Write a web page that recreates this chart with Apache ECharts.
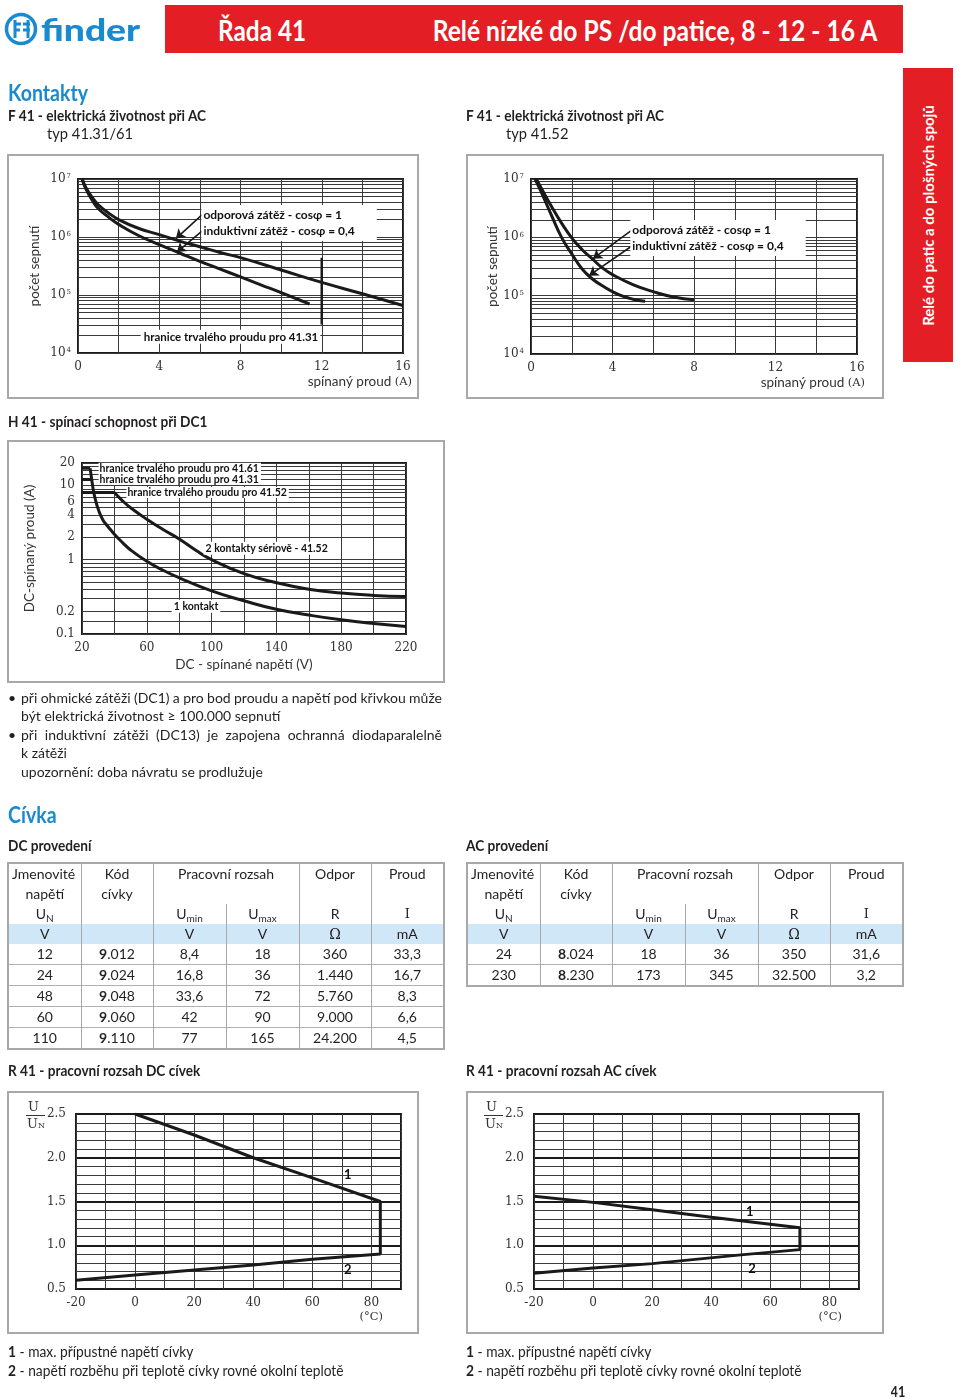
<!DOCTYPE html>
<html><head><meta charset="utf-8">
<script src="https://cdn.jsdelivr.net/npm/echarts@6.0.0/dist/echarts.min.js"></script>
<style>
html,body{margin:0;padding:0;background:#fff;}
#page{position:relative;width:960px;height:1399px;overflow:hidden;font-family:Lato,'Noto Sans',sans-serif;color:#231f20;}
#chart{position:absolute;left:0;top:0;width:960px;height:1399px;}
.t{position:absolute;white-space:nowrap;}
.frame{position:absolute;border:2px solid #a8a8a8;box-sizing:border-box;}
.tbl{position:absolute;border-collapse:collapse;table-layout:fixed;border:2px solid #a8a8a8;font-family:Lato,sans-serif;font-size:14px;color:#231f20;}
.tbl td{height:20px;padding:0;line-height:20px;text-align:center;white-space:nowrap;}
.tbl td.vl{border-left:1px solid #a8a8a8;}
.tbl tr.dr td{border-top:1px solid #b0b0b0;}
.tbl tr.blue td{background:#cfe7f6;}
.tbl sub{font-size:10px;vertical-align:-3px;line-height:0;}
</style></head>
<body><div id="page">
<div class="frame" style="left:7px;top:154px;width:412px;height:245px"></div>
<div class="frame" style="left:466px;top:154px;width:418px;height:245px"></div>
<div class="frame" style="left:7px;top:440px;width:438px;height:243px"></div>
<div class="frame" style="left:7px;top:1091px;width:412px;height:243px"></div>
<div class="frame" style="left:466px;top:1091px;width:418px;height:243px"></div>
<div id="chart"></div>
</div>
<script>
// ---------- DATA ----------
// F 41 – electrical life at AC, type 41.31/61 (x: switched current A, y: cycles)
const life4131Resistive = [[0.2,1e7],[0.4,7e6],[0.7,4.8e6],[1,3.6e6],[1.5,2.6e6],[2,2.0e6],[3,1.4e6],[4,1.1e6],[5,8.5e5],[6,6.8e5],[7,5.4e5],[8,4.4e5],[10,2.7e5],[12,1.65e5],[14,1.05e5],[16,6.6e4]];
const life4131Inductive = [[0.2,1e7],[0.4,6.6e6],[0.7,4.3e6],[1,3.1e6],[1.5,2.2e6],[2,1.65e6],[3,1.05e6],[4,7.4e5],[5,5.3e5],[6,3.8e5],[7,2.8e5],[8,2.05e5],[9,1.5e5],[10,1.1e5],[11.4,7e4]];
const limit4131 = [[12,4.4e5],[12,3.1e4]];
// F 41 – electrical life at AC, type 41.52
const life4152Resistive = [[0.26,1e7],[0.5,7e6],[1,3.4e6],[1.5,1.75e6],[2,9.8e5],[2.5,6.2e5],[3,4.3e5],[3.5,3.0e5],[4,2.3e5],[5,1.55e5],[6,1.17e5],[7,9.5e4],[8,8.5e4]];
const life4152Inductive = [[0.2,1e7],[0.5,6.0e6],[1,2.4e6],[1.5,1.0e6],[2,5.2e5],[2.5,2.9e5],[3,1.95e5],[3.5,1.48e5],[4,1.17e5],[4.5,9.8e4],[5,8.7e4],[5.6,8e4]];
// H 41 – DC1 breaking capacity (x: V, y: A)
const plateau4161 = [[20,17],[25,17]];
const plateau4131 = [[20,12],[26,12]];
const plateau4152 = [[20,8],[40,8]];
const dcOneContact = [[25,17],[26,12],[27,8.6],[28,6.8],[30,4.8],[33,3.4],[36,2.8],[40,2.2],[45,1.7],[50,1.35],[60,0.95],[70,0.72],[80,0.57],[100,0.38],[120,0.28],[140,0.215],[160,0.18],[180,0.155],[200,0.138],[220,0.126]];
const dcTwoContacts = [[40,8],[45,6.2],[50,5],[60,3.5],[70,2.55],[80,1.9],[90,1.35],[100,1.0],[120,0.65],[140,0.49],[160,0.40],[180,0.355],[200,0.33],[220,0.32]];
// R 41 – coil operating range (x: °C, y: U/UN)
const dcCoilRange = [[0,2.5],[20,2.26],[40,2.0],[60,1.77],[83,1.5],[83,0.9],[60,0.84],[40,0.775],[0,0.66],[-20,0.6]];
const acCoilRange = [[-20,1.56],[0,1.49],[20,1.405],[40,1.32],[50,1.28],[70,1.2],[70,0.95],[50,0.89],[20,0.79],[0,0.74],[-20,0.68]];
// Axis tick values
const logMantissas = [1,2,3,4,5,6,7,8,9];
const lifeDecades = [1e4,1e5,1e6,1e7];
const dcCurrentLabels = [0.1,0.2,1,2,4,6,10,20];
const dcCurrentGrid = [0.1,0.15,0.2,0.3,0.4,0.5,0.6,0.7,0.8,0.9,1,2,3,4,5,6,7,8,9,10,12,14,16,18,20];
// Coil tables
const dcRatedV = ['12','24','48','60','110'];
const dcCode = ['012','024','048','060','110'];
const dcUmin = ['8,4','16,8','33,6','42','77'];
const dcUmax = ['18','36','72','90','165'];
const dcR = ['360','1.440','5.760','9.000','24.200'];
const dcI = ['33,3','16,7','8,3','6,6','4,5'];
const acRatedV = ['24','230'];
const acCode = ['024','230'];
const acUmin = ['18','173'];
const acUmax = ['36','345'];
const acR = ['350','32.500'];
const acI = ['31,6','3,2'];

// ---------- PAGE TEXT ----------
const page = document.getElementById('page');
const SANS = "Lato, 'Noto Sans', sans-serif";
const SERIF = "'DejaVu Serif', serif";
function addText(x, y, html, o) {
  o = o || {};
  const d = document.createElement('div'); d.className = 't';
  const fs = o.size || 14, lh = Math.round(fs * 1.25);
  d.style.fontSize = fs + 'px'; d.style.lineHeight = lh + 'px';
  d.style.top = (y - lh / 2) + 'px';
  d.style.fontWeight = o.weight || 'normal';
  d.style.color = o.color || '#231f20';
  d.style.fontFamily = o.family || SANS;
  const a = o.anchor || 'left';
  if (a === 'right') { d.style.right = (960 - x) + 'px'; d.style.transformOrigin = 'right center'; }
  else { d.style.left = x + 'px'; d.style.transformOrigin = 'left center'; }
  if (o.sx) d.style.transform = 'scaleX(' + o.sx + ')';
  if (o.width) { d.style.width = o.width + 'px'; d.style.textAlign = 'justify'; d.style.textAlignLast = 'justify'; d.style.wordSpacing = '-4px'; }
  d.innerHTML = html; page.appendChild(d); return d;
}
function addBox(x, y, w, h, bg) {
  const d = document.createElement('div');
  d.style.cssText = 'position:absolute;left:' + x + 'px;top:' + y + 'px;width:' + w + 'px;height:' + h + 'px;background:' + bg;
  page.appendChild(d); return d;
}
const BLUE = '#1a8ad0', RED = '#e31e24';
const HEAD = {size: 15, weight: 'bold', sx: 0.91};
// header
addBox(165, 5, 738, 48, RED);
addText(218, 30, 'Řada 41', {size: 28, weight: 'bold', color: '#fff', sx: 0.87});
addText(877, 30, 'Relé nízké do PS /do patice, 8 - 12 - 16 A', {size: 28, weight: 'bold', color: '#fff', anchor: 'right', sx: 0.88});
const logo = document.createElement('div');
logo.style.cssText = 'position:absolute;left:4px;top:12px;width:36px;height:36px';
logo.innerHTML = '<svg width="36" height="36" viewBox="0 0 36 36"><circle cx="17" cy="17" r="14.5" fill="none" stroke="' + BLUE + '" stroke-width="3.5"/><path d="M11 8 V26 M11 12 H17 M11 18 H16 M24 8 V26 M19 12 H26 M19 18 H26" stroke="' + BLUE + '" stroke-width="3" fill="none"/></svg>';
page.appendChild(logo);
addText(41, 29, 'finder', {size: 30, weight: 900, color: BLUE, sx: 1.24});
// side tab
addBox(903, 68, 50, 294, RED);
const side = addText(928, 215, 'Relé do patic a do plošných spojů', {size: 15, weight: 'bold', color: '#fff'});
side.style.left = '928px'; side.style.transformOrigin = '0 50%';
side.style.transform = 'rotate(-90deg) translateX(-50%)';
// section titles
addText(8, 92, 'Kontakty', {size: 23, weight: 'bold', color: BLUE, sx: 0.85});
addText(8, 115, 'F 41 - elektrická životnost při AC', HEAD);
addText(47, 133, 'typ 41.31/61', {size: 15, sx: 0.98});
addText(466, 115, 'F 41 - elektrická životnost při AC', HEAD);
addText(506, 133, 'typ 41.52', {size: 15, sx: 0.98});
addText(8, 421, 'H 41 - spínací schopnost při DC1', HEAD);
addText(8, 698, '•', {size: 14});
addText(21, 698, 'při ohmické zátěži (DC1) a pro bod proudu a napětí pod křivkou může', {size: 14, width: 421});
addText(21, 716, 'být elektrická životnost ≥ 100.000 sepnutí', {size: 14});
addText(8, 735, '•', {size: 14});
addText(21, 735, 'při induktivní zátěži (DC13) je zapojena ochranná diodaparalelně', {size: 14, width: 421});
addText(21, 753, 'k zátěži', {size: 14});
addText(21, 772, 'upozornění: doba návratu se prodlužuje', {size: 14});
addText(8, 814, 'Cívka', {size: 23, weight: 'bold', color: BLUE, sx: 0.85});
addText(8, 845, 'DC provedení', HEAD);
addText(466, 845, 'AC provedení', HEAD);
addText(8, 1070, 'R 41 - pracovní rozsah DC cívek', HEAD);
addText(466, 1070, 'R 41 - pracovní rozsah AC cívek', HEAD);
[8, 466].forEach(x => {
  addText(x, 1352, '<b>1</b> - max. přípustné napětí cívky', {size: 14.5, sx: 0.95});
  addText(x, 1371, '<b>2</b> - napětí rozběhu při teplotě cívky rovné okolní teplotě', {size: 14.5, sx: 0.95});
  const f = document.createElement('div');
  f.style.cssText = 'position:absolute;left:' + (x + 18) + 'px;top:1099px;width:19px;font-family:' + SERIF + ';font-size:13px;line-height:16px;color:#333';
  f.innerHTML = '<div style="border-bottom:1px solid #333;padding-left:2px">U</div><div style="padding-left:1px">U<span style="font-size:8px">N</span></div>';
  page.appendChild(f);
});
addText(905, 1391, '41', {size: 15, weight: 'bold', anchor: 'right', sx: 0.85});

// tables
function buildTable(x, y, prefix, cols, nRows) {
  const t = document.createElement('table'); t.className = 'tbl';
  t.style.left = x + 'px'; t.style.top = y + 'px'; t.style.width = '437px';
  let h = '<colgroup><col style="width:73px"><col style="width:72px"><col style="width:73px"><col style="width:73px"><col style="width:72px"><col style="width:73px"></colgroup>';
  h += '<tr><td style="text-align:left;padding-left:3px">Jmenovité</td><td class="vl">Kód</td><td class="vl" colspan="2">Pracovní rozsah</td><td class="vl">Odpor</td><td class="vl">Proud</td></tr>';
  h += '<tr><td>napětí</td><td class="vl">cívky</td><td class="vl" colspan="2"></td><td class="vl"></td><td class="vl"></td></tr>';
  h += '<tr><td>U<sub>N</sub></td><td class="vl"></td><td class="vl">U<sub>min</sub></td><td class="vl">U<sub>max</sub></td><td class="vl">R</td><td class="vl" style="font-family:' + SERIF + ';font-size:13px">I</td></tr>';
  h += '<tr class="blue"><td>V</td><td class="vl"></td><td class="vl">V</td><td class="vl">V</td><td class="vl" style="font-family:' + SERIF + '">Ω</td><td class="vl">mA</td></tr>';
  for (let i = 0; i < nRows; i++) {
    h += '<tr class="' + (i ? 'dr' : '') + '"><td>' + cols[0][i] + '</td><td class="vl"><b>' + prefix + '</b>.' + cols[1][i] + '</td><td class="vl">' + cols[2][i] + '</td><td class="vl">' + cols[3][i] + '</td><td class="vl">' + cols[4][i] + '</td><td class="vl">' + cols[5][i] + '</td></tr>';
  }
  t.innerHTML = h; page.appendChild(t);
}
buildTable(7, 862, '9', [dcRatedV, dcCode, dcUmin, dcUmax, dcR, dcI], dcRatedV.length);
buildTable(466, 862, '8', [acRatedV, acCode, acUmin, acUmax, acR, acI], acRatedV.length);

// ---------- CHARTS ----------
const lifeGrid = [];
lifeDecades.slice(0, 3).forEach(d => logMantissas.forEach(m => lifeGrid.push(m * d)));
lifeGrid.push(1e7);

const INK = '#1a1a1a';
const gridLine = {show: true, lineStyle: {color: '#3a3a3a', width: 1}};
const tickFont = {fontFamily: SERIF, fontSize: 12, color: '#333'};
const supFmt = v => '10{s|' + Math.round(Math.log10(v)) + '}';
const supRich = {s: {fontFamily: SERIF, fontSize: 7, color: '#333', verticalAlign: 'top', padding: [0, 0, 5, 1]}};
const gridBase = {show: true, borderColor: INK, borderWidth: 2, backgroundColor: 'transparent'};

function xVal(gi, min, max, interval, fmt, extra) {
  return Object.assign({gridIndex: gi, type: 'value', min, max, interval,
    axisLine: {show: false}, axisTick: {show: false}, splitLine: gridLine,
    axisLabel: Object.assign({formatter: fmt, margin: 8}, tickFont)}, extra || {});
}
function curve(gi, data, smooth) {
  return {type: 'line', xAxisIndex: gi, yAxisIndex: gi, data, symbol: 'none', silent: true,
    smooth: smooth ? 0.5 : false,
    lineStyle: {color: INK, width: 3}, z: 3};
}
function labelPt(coord, text, pos, style) {
  return {coord, symbol: 'circle', symbolSize: 1, itemStyle: {color: 'rgba(0,0,0,0)'},
    label: Object.assign({show: true, position: pos, distance: 1, formatter: text, color: '#111',
      fontFamily: SANS, fontWeight: 'bold', fontSize: 12, backgroundColor: '#fff'}, style || {})};
}
function notes(gi, pts, arrows) {
  const s = {type: 'line', xAxisIndex: gi, yAxisIndex: gi, data: [], silent: true, z: 4,
    markPoint: {silent: true, animation: false, data: pts}};
  if (arrows) s.markLine = {silent: true, animation: false, symbol: ['none', 'arrow'], symbolSize: 9,
    lineStyle: {color: INK, width: 1.6, type: 'solid'}, label: {show: false}, data: arrows};
  return s;
}
const sansName = {fontFamily: SANS, fontSize: 13.5, color: '#333'};
const endName = (pad) => Object.assign({}, sansName, {align: 'right', verticalAlign: 'top', padding: [pad, 0, 0, 0], rich: {s: {fontFamily: SERIF, fontSize: 11.5, color: '#333'}}});

const option = {
  animation: false,
  grid: [
    Object.assign({left: 78, top: 179, width: 325, height: 174}, gridBase),
    Object.assign({left: 531, top: 179, width: 326, height: 175}, gridBase),
    Object.assign({left: 82, top: 463, width: 324, height: 171}, gridBase),
    Object.assign({left: 76, top: 1114, width: 325, height: 175}, gridBase),
    Object.assign({left: 534, top: 1114, width: 325, height: 175}, gridBase)
  ],
  xAxis: [
    xVal(0, 0, 16, 2, v => v % 4 === 0 ? String(v) : '', {name: 'spínaný proud {s|(A)}', nameLocation: 'end', nameGap: 9, nameTextStyle: endName(22)}),
    xVal(1, 0, 16, 2, v => v % 4 === 0 ? String(v) : '', {name: 'spínaný proud {s|(A)}', nameLocation: 'end', nameGap: 8, nameTextStyle: endName(22)}),
    xVal(2, 20, 220, 20, v => (v - 20) % 40 === 0 ? String(v) : '', {name: 'DC - spínané napětí (V)', nameLocation: 'middle', nameGap: 24, nameTextStyle: sansName}),
    xVal(3, -20, 90, 10, v => (v % 20 === 0 && v <= 80) ? String(v) : '', {name: '{s|(°C)}', nameLocation: 'end', nameGap: -18, nameTextStyle: endName(22)}),
    xVal(4, -20, 90, 10, v => (v % 20 === 0 && v <= 80) ? String(v) : '', {name: '{s|(°C)}', nameLocation: 'end', nameGap: -17, nameTextStyle: endName(22)})
  ],
  yAxis: [0, 1].map(gi => ({gridIndex: gi, type: 'log', logBase: 10, min: 1e4, max: 1e7,
      axisLine: {show: false}, axisTick: {show: false, customValues: lifeGrid}, splitLine: gridLine,
      axisLabel: Object.assign({customValues: lifeDecades, formatter: supFmt, margin: 7, rich: supRich}, tickFont),
      name: 'počet sepnutí', nameLocation: 'middle', nameRotate: 90, nameGap: gi ? 31 : 36, nameTextStyle: sansName}))
    .concat([
      {gridIndex: 2, type: 'log', logBase: 10, min: 0.1, max: 20,
        axisLine: {show: false}, axisTick: {show: false, customValues: dcCurrentGrid}, splitLine: gridLine,
        axisLabel: Object.assign({customValues: dcCurrentLabels, formatter: v => String(v), margin: 7}, tickFont),
        name: 'DC-spínaný proud (A)', nameLocation: 'middle', nameRotate: 90, nameGap: 45, nameTextStyle: sansName}
    ])
    .concat([3, 4].map(gi => ({gridIndex: gi, type: 'value', min: 0.5, max: 2.5, interval: 0.5,
      axisLine: {show: false}, axisTick: {show: false},
      splitLine: {show: true, lineStyle: {color: INK, width: 2}},
      minorTick: {show: false, splitNumber: 5}, minorSplitLine: {show: true, lineStyle: {color: '#3a3a3a', width: 1}},
      axisLabel: Object.assign({formatter: v => v.toFixed(1), margin: 10}, tickFont)}))),
  series: [
    // chart 1
    notes(0, [
      labelPt([6.0, 1.74e6], 'odporová zátěž - cosφ = 1\ninduktivní zátěž - cosφ = 0,4', 'right', {lineHeight: 16, padding: [2, 22, 2, 2]}),
      labelPt([12, 1.9e4], 'hranice trvalého proudu pro 41.31', 'left', {fontSize: 11.5, padding: [1, 2, 1, 3]})
    ], [
      [{coord: [6.1, 2.4e6]}, {coord: [4.82, 9.4e5]}],
      [{coord: [6.1, 1.26e6]}, {coord: [4.87, 5.5e5]}]
    ]),
    curve(0, life4131Resistive, true),
    curve(0, life4131Inductive, true),
    Object.assign(curve(0, limit4131, false), {lineStyle: {color: INK, width: 2.5}}),
    // chart 2
    notes(1, [
      labelPt([4.8, 9.7e5], 'odporová zátěž - cosφ = 1\ninduktivní zátěž - cosφ = 0,4', 'right', {lineHeight: 16, padding: [2, 22, 2, 2]})
    ], [
      [{coord: [4.95, 1.33e6]}, {coord: [3.04, 4.3e5]}],
      [{coord: [4.95, 7.1e5]}, {coord: [2.85, 2.2e5]}]
    ]),
    curve(1, life4152Resistive, true),
    curve(1, life4152Inductive, true),
    // chart 3
    notes(2, [
      labelPt([29.3, 17], 'hranice trvalého proudu pro 41.61', 'right', {fontSize: 10.5, padding: [0, 2, 0, 1]}),
      labelPt([29.3, 12], 'hranice trvalého proudu pro 41.31', 'right', {fontSize: 10.5, padding: [0, 2, 0, 1]}),
      labelPt([46.5, 8], 'hranice trvalého proudu pro 41.52', 'right', {fontSize: 10.5, padding: [0, 2, 0, 1]}),
      labelPt([134, 1.43], '2 kontakty sériově - 41.52', 'inside', {fontSize: 10.5, padding: [1, 2, 1, 2]}),
      labelPt([90.4, 0.236], '1 kontakt', 'inside', {fontSize: 10.5, padding: [1, 2, 1, 2]})
    ]),
    curve(2, plateau4161, false),
    curve(2, plateau4131, false),
    curve(2, plateau4152, false),
    curve(2, dcOneContact, true),
    curve(2, dcTwoContacts, true),
    // chart 4
    notes(3, [
      labelPt([72, 1.80], '1', 'inside', {fontSize: 13, backgroundColor: 'transparent'}),
      labelPt([72, 0.717], '2', 'inside', {fontSize: 13, backgroundColor: 'transparent'})
    ]),
    curve(3, dcCoilRange, false),
    // chart 5
    notes(4, [
      labelPt([53, 1.38], '1', 'inside', {fontSize: 13, backgroundColor: 'transparent'}),
      labelPt([53.8, 0.73], '2', 'inside', {fontSize: 13, backgroundColor: 'transparent'})
    ]),
    curve(4, acCoilRange, false)
  ]
};
const chart = echarts.init(document.getElementById('chart'));
chart.setOption(option);
</script>
</body></html>
